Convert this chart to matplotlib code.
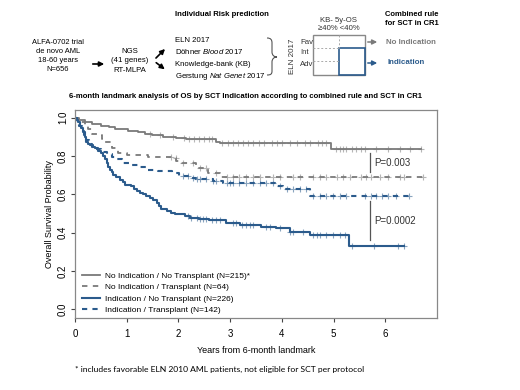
import numpy as np
import matplotlib
matplotlib.use("Agg")
import matplotlib.pyplot as plt
from matplotlib.patches import Rectangle, PathPatch
from matplotlib.path import Path

plt.rcParams['font.family'] = ['Liberation Sans', 'DejaVu Sans']
plt.rcParams['mathtext.fontset'] = 'custom'
plt.rcParams['mathtext.rm'] = 'Liberation Sans'
plt.rcParams['mathtext.it'] = 'Liberation Sans:italic'

GREY = '#7a7a7a'
BLUE = '#2b5b8c'

# Kaplan-Meier step knots (years from landmark, survival)
grey_solid_t = [0, 0.06, 0.19, 0.32, 0.51, 0.65, 0.77, 1.03, 1.22, 1.35, 1.48, 1.70, 1.95,
                2.15, 2.73, 2.80, 4.95]
grey_solid_s = [1.0, 0.99, 0.976, 0.968, 0.959, 0.95, 0.942, 0.933, 0.925, 0.915, 0.908, 0.90,
                0.893, 0.887, 0.875, 0.867, 0.837]
grey_solid_end = 6.70

grey_dash_t = [0, 0.08, 0.19, 0.26, 0.32, 0.45, 0.52, 0.58, 0.71, 0.84, 1.00, 1.42, 1.87,
               1.96, 2.06, 2.34, 2.57, 2.80]
grey_dash_s = [1.0, 0.98, 0.959, 0.94, 0.916, 0.908, 0.89, 0.873, 0.84, 0.814, 0.805, 0.797,
               0.788, 0.775, 0.765, 0.737, 0.711, 0.689]
grey_dash_end = 6.76

blue_solid_t = [0, 0.03, 0.06, 0.09, 0.12, 0.16, 0.19, 0.22, 0.25, 0.29, 0.34, 0.38, 0.44,
                0.51, 0.55, 0.58, 0.61, 0.64, 0.67, 0.71, 0.74, 0.80, 0.87, 0.92, 0.96, 1.03,
                1.09, 1.14, 1.19, 1.26, 1.32, 1.38, 1.45, 1.51, 1.58, 1.63, 1.67, 1.77, 1.85,
                1.93, 2.12, 2.22, 2.40, 2.60, 2.92, 3.20, 3.60, 3.89, 4.15, 4.54, 5.30]
blue_solid_s = [1.0, 0.99, 0.975, 0.959, 0.945, 0.925, 0.90, 0.875, 0.865, 0.856, 0.848, 0.840,
                0.828, 0.814, 0.80, 0.785, 0.765, 0.745, 0.728, 0.715, 0.703, 0.69, 0.677, 0.665,
                0.651, 0.647, 0.643, 0.630, 0.617, 0.608, 0.600, 0.592, 0.583, 0.570, 0.557,
                0.540, 0.523, 0.514, 0.505, 0.497, 0.489, 0.477, 0.470, 0.465, 0.448, 0.442,
                0.432, 0.422, 0.405, 0.388, 0.328]
blue_solid_end = 6.37

blue_dash_t = [0, 0.04, 0.08, 0.13, 0.17, 0.22, 0.27, 0.32, 0.41, 0.51, 0.61, 0.71, 0.80, 0.90,
               1.05, 1.22, 1.42, 1.61, 1.87, 2.02, 2.19, 2.34, 2.67, 2.86, 3.86, 4.02, 4.54]
blue_dash_s = [1.0, 0.98, 0.955, 0.933, 0.91, 0.882, 0.862, 0.848, 0.835, 0.822, 0.81, 0.797,
               0.782, 0.766, 0.755, 0.745, 0.728, 0.72, 0.711, 0.694, 0.686, 0.68, 0.668, 0.66,
               0.643, 0.627, 0.593]
blue_dash_end = 6.47

# censoring times
grey_solid_cens = [1.45, 1.65, 1.9, 2.1, 2.2, 2.3, 2.4, 2.5, 2.6, 2.65, 2.85, 2.95, 3.05, 3.15,
                   3.25, 3.35, 3.45, 3.55, 3.65, 3.8, 3.9, 4.0, 4.15, 4.3, 4.44, 4.54, 4.70, 4.77,
                   4.86, 5.05, 5.12, 5.18, 5.25, 5.35, 5.44, 5.54, 5.60, 5.83, 6.05, 6.28, 6.47, 6.70]
grey_dash_cens = [1.85, 1.95, 2.09, 2.28, 2.41, 2.54, 2.73, 2.93, 3.05, 3.18, 3.31, 3.44, 3.57,
                  3.83, 3.96, 4.22, 4.35, 4.60, 4.73, 4.86, 5.06, 5.18, 5.31, 5.53, 5.63, 5.73,
                  5.89, 6.05, 6.28, 6.37, 6.73]
blue_solid_cens = [2.18, 2.25, 2.35, 2.41, 2.47, 2.54, 2.64, 2.73, 2.80, 3.05, 3.12, 3.22, 3.31,
                   3.38, 3.44, 3.70, 3.77, 3.96, 4.15, 4.22, 4.41, 4.60, 4.67, 4.73, 4.86, 4.99,
                   5.12, 5.22, 5.35, 5.79, 6.24, 6.37]
blue_dash_cens = [2.09, 2.18, 2.28, 2.35, 2.41, 2.54, 2.67, 2.73, 2.93, 2.99, 3.05, 3.18, 3.31,
                  3.44, 3.57, 3.70, 3.83, 3.96, 4.09, 4.22, 4.35, 4.47, 4.60, 4.73, 4.86, 4.99,
                  5.12, 5.25, 5.60, 5.73, 5.83, 5.93, 6.05, 6.20, 6.45]

labels = ['No Indication / No Transplant (N=215)*',
          'No Indication / Transplant (N=64)',
          'Indication / No Transplant (N=226)',
          'Indication / Transplant (N=142)']

curves = [
    (grey_solid_t, grey_solid_s, grey_solid_end, grey_solid_cens, GREY, '-', 1.3),
    (grey_dash_t, grey_dash_s, grey_dash_end, grey_dash_cens, GREY, (0, (3, 3)), 1.3),
    (blue_solid_t, blue_solid_s, blue_solid_end, blue_solid_cens, BLUE, '-', 1.5),
    (blue_dash_t, blue_dash_s, blue_dash_end, blue_dash_cens, BLUE, (0, (2.5, 2.5)), 1.5),
]

fig = plt.figure(figsize=(5.2, 3.9), dpi=100)

# ---- KM panel ----
ax = fig.add_axes([75 / 520, 1 - 318 / 390, 362 / 520, 208 / 390])
handles = []
for (t, s, end, cens, col, ls, lw), lab in zip(curves, labels):
    tt = list(t) + [end]
    ss = list(s) + [s[-1]]
    h, = ax.step(tt, ss, where='post', color=col, ls=ls, lw=lw, label=lab)
    handles.append(h)
    idx = np.searchsorted(t, cens, side='right') - 1
    ax.plot(cens, np.array(s)[idx], ls='none', marker='+', ms=4.5, mew=0.8,
            color=col, alpha=0.55)

ax.set_xlim(0, 7.0)
ax.set_ylim(-0.045, 1.04)
ax.set_xticks(range(0, 7))
ax.set_yticks([0.0, 0.2, 0.4, 0.6, 0.8, 1.0])
ax.set_yticklabels(['0.0', '0.2', '0.4', '0.6', '0.8', '1.0'], rotation=90, va='center')
ax.tick_params(labelsize=7, length=3, width=0.8, color='#444444')
ax.tick_params(axis='x', pad=5)
ax.tick_params(axis='y', pad=2)
for sp in ax.spines.values():
    sp.set_color('#888888')
    sp.set_linewidth(0.9)
ax.set_xlabel('Years from 6-month landmark', fontsize=6.5, labelpad=5)
ax.set_ylabel('Overall Survival Probability', fontsize=6.5, labelpad=3)

# p-value annotations
ax.plot([5.70, 5.70], [0.718, 0.815], color='#555555', lw=0.9)
ax.text(5.78, 0.765, 'P=0.003', fontsize=7, va='center', color='#333333')
ax.plot([5.70, 5.70], [0.36, 0.564], color='#555555', lw=0.9)
ax.text(5.78, 0.46, 'P=0.0002', fontsize=7, va='center', color='#333333')

leg = ax.legend(handles=handles, loc='lower left', bbox_to_anchor=(0.005, -0.005),
                frameon=False, fontsize=6, handlelength=2.2, labelspacing=0.42,
                handletextpad=0.6, borderaxespad=0.2)

ax.set_title('6-month landmark analysis of OS by SCT Indication according to combined rule and SCT in CR1',
             fontsize=5.55, fontweight='bold', pad=9, x=0.47)

fig.text(75 / 520, 1 - 369 / 390,
         '* includes favorable ELN 2010 AML patients, not eligible for SCT per protocol',
         fontsize=6.1, family=['Lato', 'DejaVu Sans'], va='center')

# ---- top schematic (pixel coordinates) ----
ov = fig.add_axes([0, 0, 1, 1], zorder=-1)
ov.set_xlim(0, 520)
ov.set_ylim(390, 0)
ov.axis('off')

ov.text(58, 56, 'ALFA-0702 trial\nde novo AML\n18-60 years\nN=656', ha='center', va='center',
        fontsize=5.4, linespacing=1.4)
ov.annotate('', xy=(107, 64), xytext=(90, 64),
            arrowprops=dict(arrowstyle='-|>', lw=1.2, color='black', mutation_scale=7))
ov.text(130, 61, 'NGS\n(41 genes)\nRT-MLPA', ha='center', va='center', fontsize=5.6,
        linespacing=1.45)
ov.annotate('', xy=(167, 47), xytext=(154, 60),
            arrowprops=dict(arrowstyle='-|>', lw=1.2, color='black', mutation_scale=7))
ov.annotate('', xy=(167, 71), xytext=(154, 61),
            arrowprops=dict(arrowstyle='-|>', lw=1.2, color='black', mutation_scale=7))

ov.text(175, 15, 'Individual Risk prediction', fontsize=5.6, fontweight='bold', va='center')
ov.text(175, 41, 'ELN 2017', fontsize=5.6, va='center')
ov.text(175, 52, 'Döhner $\\it{Blood}$ 2017', fontsize=5.6, va='center')
ov.text(175, 65, 'Knowledge-bank (KB)', fontsize=5.6, va='center')
ov.text(175, 76, 'Gerstung $\\it{Nat\\ Genet}$ 2017', fontsize=5.6, va='center')

# curly brace
brace = Path([(267, 38), (271, 38), (272, 40), (272, 43), (272, 52),
              (272, 55), (274, 57), (277, 57),
              (274, 57), (272, 59), (272, 62), (272, 71),
              (272, 74), (271, 75), (267, 75)],
             [Path.MOVETO, Path.CURVE4, Path.CURVE4, Path.CURVE4, Path.LINETO,
              Path.CURVE4, Path.CURVE4, Path.CURVE4,
              Path.CURVE4, Path.CURVE4, Path.CURVE4, Path.LINETO,
              Path.CURVE4, Path.CURVE4, Path.CURVE4])
ov.add_patch(PathPatch(brace, fill=False, ec='#555555', lw=0.8))

ov.text(293, 56, 'ELN 2017', fontsize=5.8, rotation=90, va='center', ha='center', color='#333333')
ov.text(300, 42, 'Fav', fontsize=5.6, va='center', color='#333333')
ov.text(300, 53, 'Int', fontsize=5.6, va='center', color='#333333')
ov.text(300, 64, 'Adv', fontsize=5.6, va='center', color='#333333')
ov.text(339, 20, 'KB- 5y-OS', fontsize=5.6, ha='center', va='center', color='#333333')
ov.text(339, 29, '≥40% <40%', fontsize=5.6, ha='center', va='center', color='#333333')

ov.add_patch(Rectangle((313, 35), 52, 40, fill=False, ec='#888888', lw=1.0))
ov.plot([339, 339], [35, 48], color='#aaaaaa', lw=0.7, ls=(0, (2, 2)))
ov.plot([313, 339], [48, 48], color='#aaaaaa', lw=0.7, ls=(0, (2, 2)))
ov.plot([313, 339], [61, 61], color='#aaaaaa', lw=0.7, ls=(0, (2, 2)))
ov.add_patch(Rectangle((339, 48), 26, 27, fill=False, ec=BLUE, lw=1.2))

ov.annotate('', xy=(380, 42), xytext=(365, 42),
            arrowprops=dict(arrowstyle='-|>', lw=1.1, color=GREY, mutation_scale=7))
ov.text(386, 42, 'No Indication', fontsize=5.7, fontweight='bold', color=GREY, va='center')
ov.annotate('', xy=(380, 63), xytext=(365, 63),
            arrowprops=dict(arrowstyle='-|>', lw=1.1, color=BLUE, mutation_scale=7))
ov.text(387, 63, 'Indication', fontsize=5.7, fontweight='bold', color=BLUE, va='center')
ov.text(385, 19, 'Combined rule\nfor SCT in CR1', fontsize=5.5, fontweight='bold', va='center',
        linespacing=1.4)

fig.savefig('out.png', dpi=100)
